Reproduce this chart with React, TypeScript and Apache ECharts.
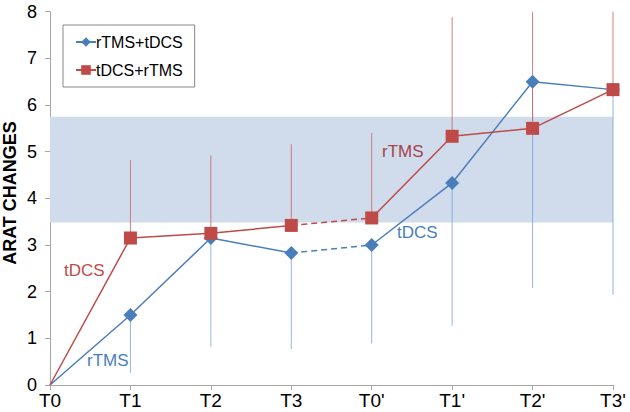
import React, { useEffect, useRef } from "react";
import * as echarts from "echarts";

const categories = ["T0", "T1", "T2", "T3", "T0'", "T1'", "T2'", "T3'"];
const yTicks = [0, 1, 2, 3, 4, 5, 6, 7, 8];
const yTitle = "ARAT CHANGES";
const rtmsTdcs = [0, 1.5, 3.15, 2.83, 3.0, 4.33, 6.5, 6.33];
const tdcsRtms = [0, 3.15, 3.25, 3.42, 3.58, 5.33, 5.5, 6.33];
// error bar ends (null = none)
const rtmsTdcsLow = [null, 0.26, 0.82, 0.77, 0.89, 1.27, 2.08, 1.93];
const tdcsRtmsHigh = [null, 4.82, 4.92, 5.16, 5.4, 7.88, 8, 8];
const band = [3.48, 5.75];

const BLUE = "#4a7ebb";
const RED = "#be4b48";
const FONT = "Liberation Sans, Arial, sans-serif";

function seg(values: number[], from: number, to: number) {
  return values.map((v, i) => (i >= from && i <= to ? v : "-"));
}

function errData(base: number[], ends: (number | null)[]) {
  const out: number[][] = [];
  ends.forEach((e, i) => {
    if (e !== null) out.push([i, base[i], e]);
  });
  return out;
}

function errSeries(name: string, data: number[][], color: string) {
  return {
    name,
    type: "custom",
    z: 1,
    silent: true,
    data,
    renderItem: (_p: any, api: any) => {
      const a = api.coord([api.value(0), api.value(1)]);
      const b = api.coord([api.value(0), api.value(2)]);
      return {
        type: "line",
        shape: { x1: a[0], y1: a[1], x2: b[0], y2: b[1] },
        style: { stroke: color, lineWidth: 1, opacity: 0.8 },
      };
    },
  };
}

function lineSeries(name: string, data: any[], color: string, symbol: string, size: number, dashed: boolean) {
  return {
    name,
    type: "line",
    z: 3,
    data: data.map((v, i) => (i === 0 && v !== "-" ? { value: v, symbol: "none" } : v)),
    symbol: dashed ? "none" : symbol,
    symbolSize: size,
    showAllSymbol: true,
    connectNulls: false,
    itemStyle: { color },
    lineStyle: { color, width: 1.5, type: dashed ? [6, 4] : "solid" },
  };
}

export default function App() {
  const ref = useRef<HTMLDivElement>(null);
  useEffect(() => {
    const chart = echarts.init(ref.current!, null, { renderer: "svg" });
    chart.setOption({
      animation: false,
      textStyle: { fontFamily: FONT },
      grid: { left: 50, right: 17, top: 11.7, bottom: 27, containLabel: false, outerBoundsMode: "none" },
      legend: {
        data: ["rTMS+tDCS", "tDCS+rTMS"],
        orient: "vertical",
        left: 63,
        top: 25,
        padding: [9, 12, 9, 12],
        itemGap: 12,
        itemWidth: 20,
        itemHeight: 12,
        borderColor: "#888",
        borderWidth: 1,
        textStyle: { fontSize: 16, color: "#000", fontFamily: FONT, padding: [0, 0, 0, -5] },
      },
      xAxis: {
        type: "category",
        data: categories,
        boundaryGap: false,
        axisLine: { lineStyle: { color: "#a6a6a6" } },
        axisTick: { alignWithLabel: true, length: 5, lineStyle: { color: "#a6a6a6" } },
        axisLabel: { fontSize: 19, color: "#000", margin: 6, fontFamily: FONT },
        splitLine: { show: false },
      },
      yAxis: {
        type: "value",
        min: 0,
        max: 8,
        interval: 1,
        axisLine: { show: true, lineStyle: { color: "#a6a6a6" } },
        axisTick: { show: true, length: 5, lineStyle: { color: "#a6a6a6" } },
        axisLabel: {
          fontSize: 18,
          color: "#000",
          margin: 13,
          fontFamily: FONT,
          formatter: (v: number) => (yTicks.includes(v) ? String(v) : ""),
        },
        splitLine: { show: false },
      },
      series: [
        {
          name: "band",
          type: "line",
          data: [],
          silent: true,
          markArea: {
            silent: true,
            itemStyle: { color: "#d0dcec" },
            data: [[{ yAxis: band[0] }, { yAxis: band[1] }]],
          },
        },
        errSeries("errBlue", errData(rtmsTdcs, rtmsTdcsLow), "#7ba3d4"),
        errSeries("errRed", errData(tdcsRtms, tdcsRtmsHigh), "#c9625f"),
        lineSeries("rTMS+tDCS", seg(rtmsTdcs, 0, 3), BLUE, "diamond", 14, false),
        lineSeries("rTMS+tDCS b", seg(rtmsTdcs, 3, 4), BLUE, "diamond", 14, true),
        lineSeries("rTMS+tDCS c", seg(rtmsTdcs, 4, 7), BLUE, "diamond", 14, false),
        lineSeries("tDCS+rTMS", seg(tdcsRtms, 0, 3), RED, "rect", 13, false),
        lineSeries("tDCS+rTMS b", seg(tdcsRtms, 3, 4), RED, "rect", 13, true),
        lineSeries("tDCS+rTMS c", seg(tdcsRtms, 4, 7), RED, "rect", 13, false),
      ],
      graphic: [
        {
          type: "text",
          id: "ytitle",
          z: 100,
          x: 10,
          y: 193,
          rotation: Math.PI / 2,
          style: {
            text: yTitle,
            fill: "#000",
            fontSize: 18,
            fontWeight: "bold",
            fontFamily: FONT,
            align: "center",
            verticalAlign: "middle",
          },
        },
        { type: "text", id: "a1", z: 100, left: 64, top: 262, style: { text: "tDCS", fill: RED, fontSize: 17, fontFamily: FONT } },
        { type: "text", id: "a2", z: 100, left: 87, top: 352, style: { text: "rTMS", fill: BLUE, fontSize: 17, fontFamily: FONT } },
        { type: "text", id: "a3", z: 100, left: 382, top: 143, style: { text: "rTMS", fill: "#a5444a", fontSize: 17, fontFamily: FONT } },
        { type: "text", id: "a4", z: 100, left: 397, top: 224, style: { text: "tDCS", fill: BLUE, fontSize: 17, fontFamily: FONT } },
      ],
    });
    return () => chart.dispose();
  }, []);
  return <div ref={ref} style={{ width: 630, height: 412, position: "absolute", left: 0, top: 0 }} />;
}
